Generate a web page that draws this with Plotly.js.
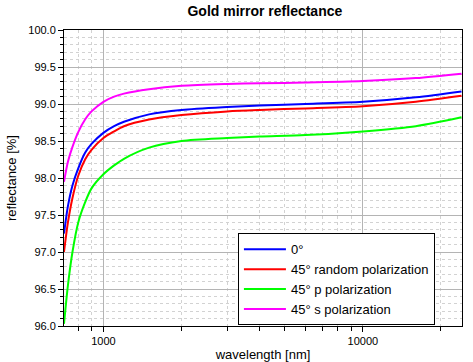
<!DOCTYPE html>
<html>
<head>
<meta charset="utf-8">
<script src="https://cdn.plot.ly/plotly-3.0.1.min.js"></script>
<style>html,body{margin:0;padding:0;background:#fff;}#chart{width:473px;height:362px;}</style>
</head>
<body>
<div id="chart"></div>
<script>
const wavelength = [705, 730, 760, 800, 850, 900, 1000, 1100, 1200, 1500, 2000, 3000, 4000, 6000, 10000, 16000, 24000];
const seriesNames = ["0°", "45° random polarization", "45° p polarization", "45° s polarization"];
const r0 =      [97.25, 97.62, 97.90, 98.13, 98.34, 98.46, 98.61, 98.70, 98.76, 98.86, 98.92, 98.96, 98.98, 99.00, 99.03, 99.09, 99.17];
const r45rand = [97.00, 97.40, 97.73, 98.03, 98.25, 98.38, 98.54, 98.63, 98.70, 98.79, 98.85, 98.90, 98.92, 98.94, 98.97, 99.03, 99.11];
const r45p =    [96.03, 96.55, 97.00, 97.40, 97.67, 97.86, 98.05, 98.17, 98.26, 98.41, 98.50, 98.54, 98.56, 98.58, 98.63, 98.70, 98.82];
const r45s =    [97.95, 98.22, 98.42, 98.62, 98.79, 98.90, 99.03, 99.10, 99.14, 99.20, 99.245, 99.27, 99.28, 99.29, 99.31, 99.35, 99.41];
const colors = ["#0000ff", "#ff0000", "#00ff00", "#ff00ff"];
const xMajorTicks = [1000, 10000];
const xMajorLabels = ["1000", "10000"];
const xMinorTicks = [800, 900, 2000, 3000, 4000, 5000, 6000, 7000, 8000, 9000, 20000];

const ys = [r0, r45rand, r45p, r45s];
const traces = ys.map((y, i) => ({
  x: wavelength, y: y, name: seriesNames[i], type: "scatter", mode: "lines",
  line: {color: colors[i], width: 2, shape: "spline", smoothing: 0.8}
}));

const font = {family: "Liberation Sans, Arial, sans-serif", color: "#000"};
const layout = {
  width: 473, height: 362,
  margin: {l: 64, r: 11, t: 30, b: 36},
  paper_bgcolor: "#fff", plot_bgcolor: "#fff",
  font: Object.assign({size: 11}, font),
  title: {text: "<b>Gold mirror reflectance</b>", x: 0.56, xanchor: "center", y: 0.97, yanchor: "middle",
          font: Object.assign({}, font, {size: 14})},
  showlegend: true,
  legend: {x: 0.437, y: 0.313, xanchor: "left", yanchor: "top", bgcolor: "#fff",
           bordercolor: "#000", borderwidth: 1, font: Object.assign({}, font, {size: 13}),
           tracegroupgap: 0, itemwidth: 42, entrywidth: 200, entrywidthmode: "pixels"},
  xaxis: {
    type: "log", range: [Math.log10(705), Math.log10(24100)],
    tickmode: "array", tickvals: xMajorTicks, ticktext: xMajorLabels,
    ticks: "outside", ticklen: 5, tickcolor: "#000",
    showline: true, linecolor: "#000", linewidth: 1, mirror: true,
    showgrid: true, gridcolor: "#b4b4b4", gridwidth: 1,
    zeroline: false,
    tickfont: Object.assign({}, font, {size: 11}),
    title: {text: "wavelength [nm]", font: Object.assign({}, font, {size: 13}), standoff: 4},
    minor: {tickmode: "array", tickvals: xMinorTicks, ticks: "outside", ticklen: 4, tickcolor: "#000",
            showgrid: true, gridcolor: "#d2d2d2", griddash: "dot", gridwidth: 1}
  },
  yaxis: {
    range: [96, 100], dtick: 0.5, tick0: 96, tickformat: ".1f",
    ticks: "outside", ticklen: 5, tickcolor: "#000",
    showline: true, linecolor: "#000", linewidth: 1, mirror: true,
    showgrid: true, gridcolor: "#b4b4b4", gridwidth: 1,
    zeroline: false,
    tickfont: Object.assign({}, font, {size: 11}),
    title: {text: "reflectance [%]", font: Object.assign({}, font, {size: 13}), standoff: 8},
    minor: {dtick: 0.1, ticks: "outside", ticklen: 3, tickcolor: "#000",
            showgrid: true, gridcolor: "#d2d2d2", griddash: "dot", gridwidth: 1}
  }
};
Plotly.newPlot("chart", traces, layout, {displayModeBar: false, staticPlot: true});
</script>
</body>
</html>
